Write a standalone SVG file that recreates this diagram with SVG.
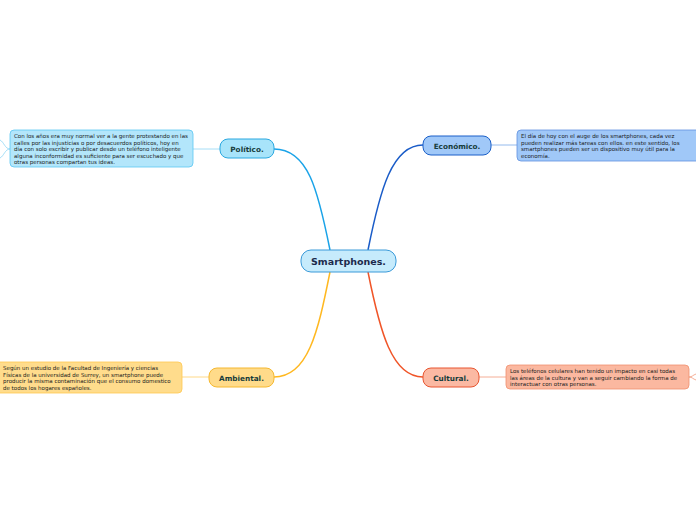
<svg xmlns="http://www.w3.org/2000/svg" width="696" height="520" viewBox="0 0 696 520">
<style>
.lbl{font-family:"DejaVu Sans",Verdana,sans-serif;font-weight:bold;font-size:7.3px;fill:#173c3c;text-anchor:middle}
.desc{font-family:"DejaVu Sans",Verdana,sans-serif;font-size:5.5px;fill:#1a1a1a}
.c{fill:none;stroke-width:1.5}
.t{fill:none;stroke-width:0.8}
</style>
<rect width="696" height="520" fill="#ffffff"/>
<g id="connectors">
<path class="c" d="M330,250 C318,190 308,149 274,149" stroke="#1aa3e8"/>
<path class="c" d="M368,250 C380,190 392,145 423,145" stroke="#1a5cc8"/>
<path class="c" d="M330,272 C318,332 308,377 274,377" stroke="#ffb820"/>
<path class="c" d="M368,272 C380,332 392,377 423,377" stroke="#f05528"/>
<path class="t" d="M193,149 L220,149" stroke="#8fd6f5"/>
<path class="t" d="M491,145 L517,145" stroke="#7aa8e8"/>
<path class="t" d="M182,377 L209,377" stroke="#ffcf6a"/>
<path class="t" d="M479,377 L506,377" stroke="#f39a7c"/>
<path class="t" d="M10,149 C5,149 4,142 0,140 M10,149 C5,149 4,156 0,158" stroke="#8fd6f5"/>
<path class="t" d="M689,377 C692,377 693,375 696,374 M689,377 C692,377 693,379 696,380" stroke="#f39a7c"/>
</g>
<g id="center">
<rect x="301" y="250" width="95" height="22" rx="10" fill="#c6ebfc" stroke="#3a9ad9" stroke-width="1"/>
<text x="348.5" y="264.5" class="lbl" style="font-size:9.5px;fill:#1c2a4c">Smartphones.</text>
</g>
<g id="politico">
<rect x="220" y="139" width="54" height="19" rx="8" fill="#a8e4fa" stroke="#2aa8e0" stroke-width="1"/>
<text x="247" y="151.5" class="lbl">Político.</text>
</g>
<g id="politico-text">
<rect x="10" y="130" width="183" height="37" rx="4" fill="#b3e6fb" stroke="#5bc6f2" stroke-width="0.8"/>
<text class="desc"><tspan x="14" y="138">Con los años era muy normal ver a la gente protestando en las</tspan><tspan x="14" y="144.5">calles por las injusticias o por desacuerdos políticos, hoy en</tspan><tspan x="14" y="151">día con solo escribir y publicar desde un teléfono inteligente</tspan><tspan x="14" y="157.5">alguna inconformidad es suficiente para ser escuchado y que</tspan><tspan x="14" y="164">otras personas compartan tus ideas.</tspan></text>
</g>
<g id="economico">
<rect x="423" y="136" width="68" height="19" rx="8" fill="#a0c8f8" stroke="#1a5fc8" stroke-width="1"/>
<text x="457" y="148.5" class="lbl">Económico.</text>
</g>
<g id="economico-text">
<rect x="517" y="130" width="185" height="31" rx="4" fill="#a0c8f8" stroke="#5f90e0" stroke-width="0.8"/>
<text class="desc"><tspan x="521" y="138">El día de hoy con el auge de los smartphones, cada vez</tspan><tspan x="521" y="144.5">pueden realizar más tareas con ellos. en este sentido, los</tspan><tspan x="521" y="151">smartphones pueden ser un dispositivo muy útil para la</tspan><tspan x="521" y="157.5">economía.</tspan></text>
</g>
<g id="ambiental">
<rect x="209" y="368" width="65" height="19" rx="8" fill="#ffdb8a" stroke="#f5b830" stroke-width="1"/>
<text x="241.5" y="380.5" class="lbl">Ambiental.</text>
</g>
<g id="ambiental-text">
<rect x="-5" y="362" width="187" height="31" rx="4" fill="#ffdc8c" stroke="#ffc850" stroke-width="0.8"/>
<text class="desc"><tspan x="3" y="370">Según un estudio de la Facultad de Ingeniería y ciencias</tspan><tspan x="3" y="376.5">Físicas de la universidad de Surrey, un smartphone puede</tspan><tspan x="3" y="383">producir la misma contaminación que el consumo domestico</tspan><tspan x="3" y="389.5">de todos los hogares españoles.</tspan></text>
</g>
<g id="cultural">
<rect x="423" y="368" width="56" height="19" rx="8" fill="#fbb9a3" stroke="#e85530" stroke-width="1"/>
<text x="451" y="380.5" class="lbl">Cultural.</text>
</g>
<g id="cultural-text">
<rect x="506" y="365" width="183" height="24" rx="4" fill="#fbb8a0" stroke="#f09070" stroke-width="0.8"/>
<text class="desc"><tspan x="510" y="373">Los teléfonos celulares han tenido  un impacto en casi todas</tspan><tspan x="510" y="379.5">las áreas de la cultura y van a seguir cambiando la forma de</tspan><tspan x="510" y="386">interactuar con otras personas.</tspan></text>
</g>
</svg>
